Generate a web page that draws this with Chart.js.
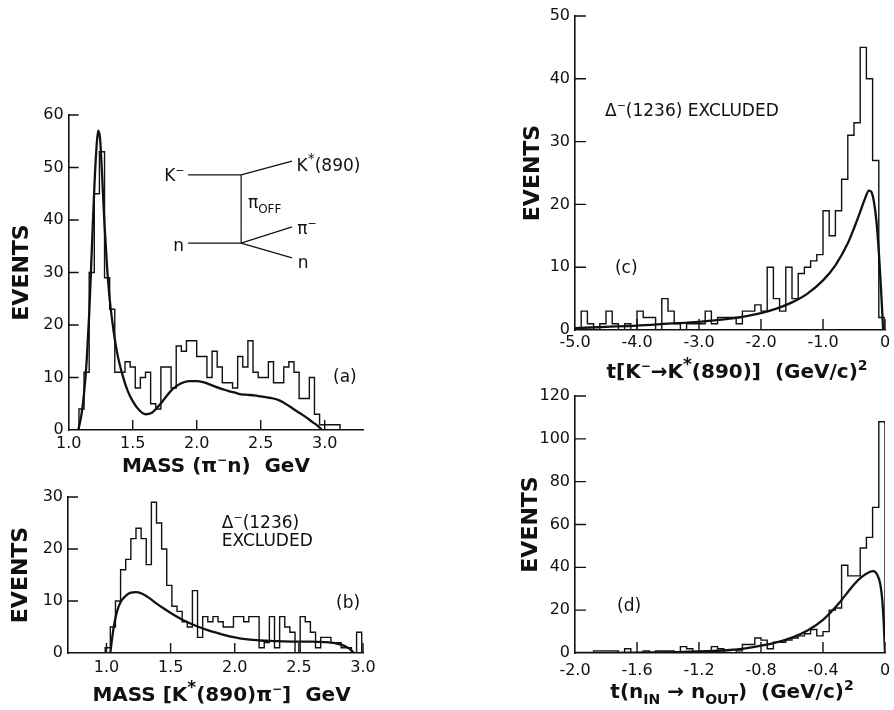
<!DOCTYPE html>
<html><head><meta charset="utf-8">
<script src="https://cdn.jsdelivr.net/npm/chart.js@4.4.1/dist/chart.umd.min.js"></script>
<style>
html,body{margin:0;padding:0;background:#fff;}
#wrap{position:relative;width:894px;height:710px;background:#fff;overflow:hidden;}
canvas{position:absolute;left:0;top:0;}
</style></head><body>
<div id="wrap">
<canvas id="ca" width="894" height="710"></canvas>
<canvas id="cb" width="894" height="710"></canvas>
<canvas id="cc" width="894" height="710"></canvas>
<canvas id="cd" width="894" height="710"></canvas>
</div>
<script>
// ---------------- DATA ----------------
// (a) MASS (pi- n), bins of 0.04 GeV (lower edges)
const binLowA = [1.00,1.04,1.08,1.12,1.16,1.20,1.24,1.28,1.32,1.36,1.40,1.44,1.48,1.52,1.56,1.60,1.64,1.68,1.72,1.76,1.80,1.84,1.88,1.92,1.96,2.00,2.04,2.08,2.12,2.16,2.20,2.24,2.28,2.32,2.36,2.40,2.44,2.48,2.52,2.56,2.60,2.64,2.68,2.72,2.76,2.80,2.84,2.88,2.92,2.96,3.00,3.04,3.08];
const countsA = [0,0,4,11,30,45,53,29,23,11,11,13,12,8,10,11,5,4,12,12,8,16,15,17,17,14,14,10,15,12,9,9,8,14,12,17,11,10,10,13,9,9,12,13,11,6,6,10,3,1,1,1,1];
const binWidthA = 0.04;
const curveAx = [1.075,1.10,1.12,1.14,1.16,1.18,1.20,1.215,1.23,1.245,1.26,1.28,1.30,1.32,1.35,1.38,1.42,1.46,1.50,1.55,1.60,1.65,1.70,1.75,1.80,1.85,1.90,1.95,2.00,2.05,2.10,2.15,2.20,2.25,2.30,2.35,2.40,2.45,2.50,2.55,2.60,2.65,2.70,2.75,2.80,2.85,2.90,2.95,2.98];
const curveAy = [0,3,7,13,22,34,46,53,57,55.5,49,39,31,25,19,14.5,10.5,7.5,5.5,3.8,3.0,3.3,4.5,6,7.5,8.5,9.1,9.3,9.3,9.1,8.7,8.2,7.8,7.4,7.1,6.8,6.7,6.6,6.4,6.2,6.0,5.6,4.9,4.1,3.3,2.5,1.6,0.7,0];
const xTicksA = [1.0,1.5,2.0,2.5,3.0];
const yTicksA = [0,10,20,30,40,50,60];

// (b) MASS [K*(890) pi-]
const binLowB = [0.99,1.03,1.07,1.11,1.15,1.19,1.23,1.27,1.31,1.35,1.39,1.43,1.47,1.51,1.55,1.59,1.63,1.67,1.71,1.75,1.79,1.83,1.87,1.91,1.95,1.99,2.03,2.07,2.11,2.15,2.19,2.23,2.27,2.31,2.35,2.39,2.43,2.47,2.51,2.55,2.59,2.63,2.67,2.71,2.75,2.79,2.83,2.87,2.91,2.95];
const countsB = [1,5,10,16,18,22,24,22,17,29,25,20,13,9,8,6,5,12,3,7,6,7,6,5,5,7,7,6,7,7,1,2,7,1,7,5,4,0,7,6,4,1,3,3,2,2,1,1,0,4];
const binWidthB = 0.04;
const curveBx = [1.03,1.045,1.06,1.08,1.11,1.15,1.19,1.23,1.27,1.32,1.38,1.45,1.52,1.60,1.70,1.80,1.90,2.00,2.10,2.20,2.30,2.45,2.60,2.70,2.78,2.84,2.89,2.93];
const curveBy = [0,3,5.5,7.8,9.8,11,11.6,11.7,11.5,10.8,9.7,8.5,7.4,6.3,5.2,4.3,3.6,3.0,2.6,2.4,2.3,2.2,2.2,2.1,1.9,1.5,0.9,0];
const xTicksB = [1.0,1.5,2.0,2.5,3.0];
const yTicksB = [0,10,20,30];

// (c) t[K- -> K*(890)]
const binLowC = [-5.0,-4.9,-4.8,-4.7,-4.6,-4.5,-4.4,-4.3,-4.2,-4.1,-4.0,-3.9,-3.8,-3.7,-3.6,-3.5,-3.4,-3.3,-3.2,-3.1,-3.0,-2.9,-2.8,-2.7,-2.6,-2.5,-2.4,-2.3,-2.2,-2.1,-2.0,-1.9,-1.8,-1.7,-1.6,-1.5,-1.4,-1.3,-1.2,-1.1,-1.0,-0.9,-0.8,-0.7,-0.6,-0.5,-0.4,-0.3,-0.2,-0.1];
const countsC = [0,3,1,0,1,3,1,0,1,0,3,2,2,0,5,3,1,0,1,1,1,3,1,2,2,2,1,3,3,4,3,10,5,3,10,5,9,10,11,12,19,15,19,24,31,33,45,40,27,2];
const binWidthC = 0.1;
const curveCx = [-5.0,-4.5,-4.0,-3.5,-3.0,-2.5,-2.0,-1.75,-1.5,-1.25,-1.0,-0.8,-0.6,-0.5,-0.4,-0.32,-0.26,-0.22,-0.18,-0.14,-0.10,-0.07,-0.045,-0.03];
const curveCy = [0.3,0.5,0.7,1.0,1.3,1.8,2.7,3.4,4.4,5.8,7.9,10.3,13.8,16.2,18.8,21,22.2,22,20.5,17.5,12.5,7.5,3,0];
const xTicksC = [-5,-4,-3,-2,-1,0];
const yTicksC = [0,10,20,30,40,50];

// (d) t(n_IN -> n_OUT)
const binLowD = [-2.00,-1.96,-1.92,-1.88,-1.84,-1.80,-1.76,-1.72,-1.68,-1.64,-1.60,-1.56,-1.52,-1.48,-1.44,-1.40,-1.36,-1.32,-1.28,-1.24,-1.20,-1.16,-1.12,-1.08,-1.04,-1.00,-0.96,-0.92,-0.88,-0.84,-0.80,-0.76,-0.72,-0.68,-0.64,-0.60,-0.56,-0.52,-0.48,-0.44,-0.40,-0.36,-0.32,-0.28,-0.24,-0.20,-0.16,-0.12,-0.08,-0.04];
const countsD = [0,0,0,1,1,1,1,0,2,0,0,1,0,1,1,1,0,3,2,0,0,1,3,2,0,0,1,4,4,7,6,2,5,5,6,7,8,9,11,8,10,20,21,41,36,36,49,54,68,108];
const binWidthD = 0.04;
const curveDx = [-2.0,-1.6,-1.3,-1.1,-1.0,-0.9,-0.8,-0.7,-0.6,-0.5,-0.4,-0.3,-0.25,-0.2,-0.15,-0.1,-0.075,-0.05,-0.03,-0.018,-0.008,0];
const curveDy = [0,0.2,0.5,1.0,1.4,2.2,3.4,5.0,7.2,10.5,15.5,23,27.5,32,35.5,37.8,38.2,36.5,32,25,14,0];
const xTicksD = [-2.0,-1.6,-1.2,-0.8,-0.4,0];
const yTicksD = [0,20,40,60,80,100,120];

// ---------------- DRAWING ----------------
const FONT = "'DejaVu Sans', 'Liberation Sans', sans-serif";
const INK = '#111';
Chart.defaults.font.family = FONT;
Chart.defaults.color = INK;

function histPoints(lows, counts, w) {
  const pts = [{x: lows[0], y: 0}];
  lows.forEach((e, i) => pts.push({x: e, y: counts[i]}));
  pts.push({x: lows[lows.length - 1] + w, y: 0});
  return pts;
}
function curvePoints(xs, ys) { return xs.map((x, i) => ({x, y: ys[i]})); }
function fmt1(v) { return Math.abs(v) < 1e-9 ? '0' : v.toFixed(1); }
function fmt0(v) { return String(Math.round(v)); }

function drawRich(ctx, segs, x, y, size, weight, align) {
  const parts = []; let w = 0;
  for (const s of segs) {
    const sz = (s.sup || s.sub) ? Math.round(size * (s.scale || 0.62)) : size;
    ctx.font = `${weight} ${sz}px ${FONT}`;
    const mw = ctx.measureText(s.t).width;
    parts.push({s, sz, mw}); w += mw;
  }
  let cx = align === 'center' ? x - w / 2 : (align === 'right' ? x - w : x);
  const base = y + size * 0.365;
  ctx.textAlign = 'left'; ctx.textBaseline = 'alphabetic'; ctx.fillStyle = INK;
  for (const p of parts) {
    ctx.font = `${weight} ${p.sz}px ${FONT}`;
    let by = base;
    if (p.s.sup) by = base - size * 0.42;
    if (p.s.sub) by = base + size * 0.3;
    ctx.fillText(p.s.t, cx, by);
    cx += p.mw;
  }
}

function makePanel(cfg) {
  const a = cfg.area;
  const yW = 60, xH = 50;
  const decor = {
    id: 'decor_' + cfg.id,
    afterDraw(chart) {
      const {ctx, chartArea: ca, scales: {x, y}} = chart;
      ctx.save();
      ctx.strokeStyle = INK; ctx.lineWidth = 1.4; ctx.lineCap = 'butt';
      ctx.beginPath();
      for (const v of cfg.xTicks) {
        if (Math.abs(v - cfg.xMin) < 1e-9) continue;
        const px = x.getPixelForValue(v);
        ctx.moveTo(px, ca.bottom); ctx.lineTo(px, ca.bottom - cfg.tickLen);
      }
      for (const v of cfg.yTicks) {
        if (v === 0) continue;
        const py = y.getPixelForValue(v);
        ctx.moveTo(ca.left, py); ctx.lineTo(ca.left + cfg.tickLen, py);
      }
      ctx.stroke();
      if (cfg.lines) {
        ctx.lineWidth = 1.2; ctx.beginPath();
        for (const L of cfg.lines) {
          ctx.moveTo(x.getPixelForValue(L[0]), y.getPixelForValue(L[1]));
          ctx.lineTo(x.getPixelForValue(L[2]), y.getPixelForValue(L[3]));
        }
        ctx.stroke();
      }
      for (const n of (cfg.notes || [])) {
        drawRich(ctx, n.segs, x.getPixelForValue(n.x), y.getPixelForValue(n.y), n.size || 17, 'normal', n.align || 'left');
      }
      drawRich(ctx, cfg.xTitle, (ca.left + ca.right) / 2 + cfg.titleDx, ca.bottom + cfg.titleDy, 20, 'bold', 'center');
      ctx.restore();
    }
  };
  return new Chart(document.getElementById(cfg.id), {
    type: 'line',
    data: {
      datasets: [
        {data: histPoints(cfg.lows, cfg.counts, cfg.bw), stepped: 'before', borderColor: INK, borderWidth: 1.4,
         pointRadius: 0, fill: false, borderJoinStyle: 'miter'},
        {data: curvePoints(cfg.cx, cfg.cy), borderColor: INK, borderWidth: 2.3, pointRadius: 0, fill: false,
         cubicInterpolationMode: 'monotone'}
      ]
    },
    options: {
      responsive: false, animation: false, devicePixelRatio: 1,
      layout: {padding: {left: a.l - yW, top: a.t, right: 894 - a.r, bottom: 710 - a.b - xH}},
      plugins: {legend: {display: false}, tooltip: {enabled: false}, title: {display: false}},
      scales: {
        x: {
          type: 'linear', min: cfg.xMin, max: cfg.xMax,
          afterBuildTicks: s => { s.ticks = cfg.xTicks.map(v => ({value: v})); },
          afterFit: s => { s.height = xH; s.paddingLeft = 0; s.paddingRight = 0; },
          grid: {display: false, drawTicks: false},
          border: {display: true, color: INK, width: 1.6},
          ticks: {autoSkip: false, maxRotation: 0, minRotation: 0, padding: cfg.xPad, color: INK,
                  font: {size: 16}, callback: v => fmt1(v)}
        },
        y: {
          type: 'linear', min: 0, max: cfg.yMax,
          afterBuildTicks: s => { s.ticks = cfg.yTicks.map(v => ({value: v})); },
          afterFit: s => { s.width = yW; s.paddingTop = 0; s.paddingBottom = 0; },
          grid: {display: false, drawTicks: false},
          border: {display: true, color: INK, width: 1.6},
          ticks: {autoSkip: false, padding: 5, color: INK, font: {size: 16}, callback: v => fmt0(v)},
          title: {display: true, text: 'EVENTS', color: INK, font: {size: 22, weight: 'bold'},
                  padding: {top: cfg.yTitlePad, bottom: 0}}
        }
      }
    },
    plugins: [decor]
  });
}

makePanel({
  id: 'ca', area: {l: 68.7, t: 115, r: 363.1, b: 430}, xMin: 1.0, xMax: 3.3, yMax: 60,
  xTicks: xTicksA, yTicks: yTicksA, lows: binLowA, counts: countsA, bw: binWidthA, cx: curveAx, cy: curveAy,
  xPad: 4.4, yTitlePad: 0, tickLen: 10, titleDx: 0, titleDy: 35,
  xTitle: [{t: 'MASS (π'}, {t: '−', sup: 1}, {t: 'n)  GeV'}],
  lines: [[1.933, 48.6, 2.347, 48.6], [2.347, 48.6, 2.347, 35.6], [2.347, 48.6, 2.745, 51.2],
          [1.933, 35.6, 2.347, 35.6], [2.347, 35.6, 2.745, 38.7], [2.347, 35.6, 2.745, 32.8]],
  notes: [
    {x: 1.905, y: 48.6, align: 'right', segs: [{t: 'K'}, {t: '−', sup: 1}]},
    {x: 2.78, y: 50.6, segs: [{t: 'K'}, {t: '*', sup: 1, scale: 0.85}, {t: '(890)'}]},
    {x: 2.40, y: 43.4, segs: [{t: 'π'}, {t: 'OFF', sub: 1, scale: 0.7}]},
    {x: 1.90, y: 35.2, align: 'right', segs: [{t: 'n'}]},
    {x: 2.785, y: 38.5, segs: [{t: 'π'}, {t: '−', sup: 1}]},
    {x: 2.79, y: 32.0, segs: [{t: 'n'}]},
    {x: 3.065, y: 10.3, segs: [{t: '(a)'}]}
  ]
});

makePanel({
  id: 'cb', area: {l: 68, t: 497, r: 363, b: 653}, xMin: 0.70, xMax: 3.0, yMax: 30,
  xTicks: xTicksB, yTicks: yTicksB, lows: binLowB, counts: countsB, bw: binWidthB, cx: curveBx, cy: curveBy,
  xPad: 4.9, yTitlePad: 0, tickLen: 10, titleDx: 6, titleDy: 41,
  xTitle: [{t: 'MASS [K'}, {t: '*', sup: 1, scale: 0.85}, {t: '(890)π'}, {t: '−', sup: 1}, {t: ']  GeV'}],
  notes: [
    {x: 1.899, y: 25.2, segs: [{t: 'Δ'}, {t: '−', sup: 1}, {t: '(1236)'}]},
    {x: 1.899, y: 21.7, segs: [{t: 'EXCLUDED'}]},
    {x: 2.79, y: 9.8, segs: [{t: '(b)'}]}
  ]
});

makePanel({
  id: 'cc', area: {l: 575, t: 16, r: 885, b: 330}, xMin: -5, xMax: 0, yMax: 50,
  xTicks: xTicksC, yTicks: yTicksC, lows: binLowC, counts: countsC, bw: binWidthC, cx: curveCx, cy: curveCy,
  xPad: 3.4, yTitlePad: 5, tickLen: 11, titleDx: 7, titleDy: 41,
  xTitle: [{t: 't[K'}, {t: '−', sup: 1}, {t: '→K'}, {t: '*', sup: 1, scale: 0.85}, {t: '(890)]  (GeV/c)'}, {t: '2', sup: 1, scale: 0.7}],
  notes: [
    {x: -4.516, y: 35.0, segs: [{t: 'Δ'}, {t: '−', sup: 1}, {t: '(1236) EXCLUDED'}]},
    {x: -4.355, y: 10.0, segs: [{t: '(c)'}]}
  ]
});

makePanel({
  id: 'cd', area: {l: 575, t: 396, r: 885, b: 653}, xMin: -2, xMax: 0, yMax: 120,
  xTicks: xTicksD, yTicks: yTicksD, lows: binLowD, counts: countsD, bw: binWidthD, cx: curveDx, cy: curveDy,
  xPad: 8.4, yTitlePad: 3, tickLen: 11, titleDx: 2, titleDy: 38,
  xTitle: [{t: 't(n'}, {t: 'IN', sub: 1, scale: 0.7}, {t: ' → n'}, {t: 'OUT', sub: 1, scale: 0.7}, {t: ')  (GeV/c)'}, {t: '2', sup: 1, scale: 0.7}],
  notes: [
    {x: -1.729, y: 22.4, segs: [{t: '(d)'}]}
  ]
});
</script>
</body></html>
